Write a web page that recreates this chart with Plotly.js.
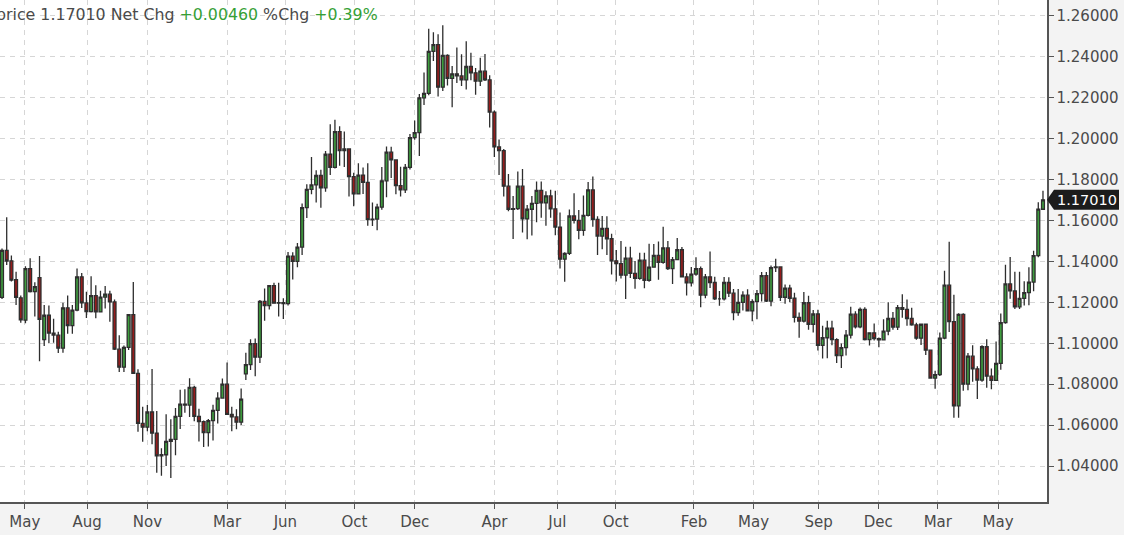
<!DOCTYPE html>
<html>
<head>
<meta charset="utf-8">
<script src="https://cdn.plot.ly/plotly-3.0.1.min.js"></script>
<style>
html,body{margin:0;padding:0;background:#f3f3f3;}
#chart{width:1124px;height:535px;}
</style>
</head>
<body>
<div id="chart"></div>
<script>
// Weekly EUR/USD candles (week starting dates)
const weeks = [
'2016-04-25','2016-05-02','2016-05-09','2016-05-16','2016-05-23','2016-05-30','2016-06-06','2016-06-13','2016-06-20','2016-06-27',
'2016-07-04','2016-07-11','2016-07-18','2016-07-25','2016-08-01','2016-08-08','2016-08-15','2016-08-22','2016-08-29','2016-09-05',
'2016-09-12','2016-09-19','2016-09-26','2016-10-03','2016-10-10','2016-10-17','2016-10-24','2016-10-31','2016-11-07','2016-11-14',
'2016-11-21','2016-11-28','2016-12-05','2016-12-12','2016-12-19','2016-12-26','2017-01-02','2017-01-09','2017-01-16','2017-01-23',
'2017-01-30','2017-02-06','2017-02-13','2017-02-20','2017-02-27','2017-03-06','2017-03-13','2017-03-20','2017-03-27','2017-04-03',
'2017-04-10','2017-04-17','2017-04-24','2017-05-01','2017-05-08','2017-05-15','2017-05-22','2017-05-29','2017-06-05','2017-06-12',
'2017-06-19','2017-06-26','2017-07-03','2017-07-10','2017-07-17','2017-07-24','2017-07-31','2017-08-07','2017-08-14','2017-08-21',
'2017-08-28','2017-09-04','2017-09-11','2017-09-18','2017-09-25','2017-10-02','2017-10-09','2017-10-16','2017-10-23','2017-10-30',
'2017-11-06','2017-11-13','2017-11-20','2017-11-27','2017-12-04','2017-12-11','2017-12-18','2017-12-25','2018-01-01','2018-01-08',
'2018-01-15','2018-01-22','2018-01-29','2018-02-05','2018-02-12','2018-02-19','2018-02-26','2018-03-05','2018-03-12','2018-03-19',
'2018-03-26','2018-04-02','2018-04-09','2018-04-16','2018-04-23','2018-04-30','2018-05-07','2018-05-14','2018-05-21','2018-05-28',
'2018-06-04','2018-06-11','2018-06-18','2018-06-25','2018-07-02','2018-07-09','2018-07-16','2018-07-23','2018-07-30','2018-08-06',
'2018-08-13','2018-08-20','2018-08-27','2018-09-03','2018-09-10','2018-09-17','2018-09-24','2018-10-01','2018-10-08','2018-10-15',
'2018-10-22','2018-10-29','2018-11-05','2018-11-12','2018-11-19','2018-11-26','2018-12-03','2018-12-10','2018-12-17','2018-12-24',
'2018-12-31','2019-01-07','2019-01-14','2019-01-21','2019-01-28','2019-02-04','2019-02-11','2019-02-18','2019-02-25','2019-03-04',
'2019-03-11','2019-03-18','2019-03-25','2019-04-01','2019-04-08','2019-04-15','2019-04-22','2019-04-29','2019-05-06','2019-05-13',
'2019-05-20','2019-05-27','2019-06-03','2019-06-10','2019-06-17','2019-06-24','2019-07-01','2019-07-08','2019-07-15','2019-07-22',
'2019-07-29','2019-08-05','2019-08-12','2019-08-19','2019-08-26','2019-09-02','2019-09-09','2019-09-16','2019-09-23','2019-09-30',
'2019-10-07','2019-10-14','2019-10-21','2019-10-28','2019-11-04','2019-11-11','2019-11-18','2019-11-25','2019-12-02','2019-12-09',
'2019-12-16','2019-12-23','2019-12-30','2020-01-06','2020-01-13','2020-01-20','2020-01-27','2020-02-03','2020-02-10','2020-02-17',
'2020-02-24','2020-03-02','2020-03-09','2020-03-16','2020-03-23','2020-03-30','2020-04-06','2020-04-13','2020-04-20','2020-04-27',
'2020-05-04','2020-05-11','2020-05-18','2020-05-25','2020-06-01','2020-06-08','2020-06-15','2020-06-22','2020-06-29','2020-07-06',
'2020-07-13','2020-07-20','2020-07-27'
];

const opens = [
1.1224,1.1454,1.1403,1.1311,1.1222,1.1113,1.1365,1.1252,1.1321,1.1018,
1.1137,1.1050,1.1040,1.0976,1.1173,1.1086,1.1162,1.1325,1.1197,1.1155,
1.1233,1.1153,1.1226,1.1240,1.1202,1.0971,1.0883,1.0980,1.1140,1.0853,
1.0608,1.0590,1.0664,1.0561,1.0449,1.0455,1.0520,1.0530,1.0643,1.0702,
1.0698,1.0784,1.0643,1.0617,1.0563,1.0622,1.0672,1.0732,1.0800,1.0652,
1.0640,1.0614,1.0850,1.0896,1.0998,1.0932,1.1205,1.1184,1.1282,1.1196,
1.1198,1.1194,1.1426,1.1400,1.1470,1.1663,1.1752,1.1774,1.1820,1.1760,
1.1924,1.1860,1.2035,1.1942,1.1950,1.1815,1.1730,1.1822,1.1786,1.1604,
1.1607,1.1665,1.1794,1.1934,1.1896,1.1771,1.1750,1.1860,1.2005,1.2030,
1.2200,1.2222,1.2427,1.2460,1.2252,1.2407,1.2295,1.2317,1.2307,1.2288,
1.2353,1.2322,1.2281,1.2330,1.2288,1.2130,1.1960,1.1942,1.1768,1.1655,
1.1658,1.1768,1.1608,1.1655,1.1684,1.1747,1.1686,1.1720,1.1657,1.1568,
1.1411,1.1439,1.1622,1.1601,1.1552,1.1625,1.1750,1.1606,1.1524,1.1562,
1.1511,1.1403,1.1389,1.1333,1.1416,1.1342,1.1317,1.1406,1.1308,1.1372,
1.1430,1.1395,1.1466,1.1365,1.1409,1.1457,1.1325,1.1295,1.1338,1.1365,
1.1235,1.1325,1.1297,1.1217,1.1217,1.1297,1.1245,1.1150,1.1200,1.1235,
1.1158,1.1204,1.1243,1.1331,1.1206,1.1370,1.1373,1.1225,1.1270,1.1220,
1.1127,1.1108,1.1198,1.1093,1.1143,1.0990,1.1027,1.1074,1.1018,1.0940,
1.0979,1.1040,1.1142,1.1080,1.1166,1.1018,1.1051,1.1023,1.1017,1.1059,
1.1121,1.1079,1.1174,1.1166,1.1121,1.1090,1.1025,1.1093,1.0966,1.0830,
1.0847,1.1025,1.1284,1.1106,1.0694,1.1141,1.0800,1.0937,1.0875,1.0820,
1.0983,1.0839,1.0819,1.0902,1.1101,1.1290,1.1256,1.1178,1.1219,1.1248,
1.1299,1.1428,1.1655
];

const highs = [
1.1463,1.1616,1.1429,1.1350,1.1233,1.1376,1.1416,1.1298,1.1427,1.1187,
1.1185,1.1120,1.1056,1.1198,1.1234,1.1187,1.1366,1.1343,1.1252,1.1327,
1.1283,1.1257,1.1280,1.1257,1.1214,1.1039,1.0989,1.1140,1.1300,1.0873,
1.0690,1.0698,1.0874,1.0669,1.0487,1.0653,1.0629,1.0684,1.0773,1.0775,
1.0829,1.0792,1.0680,1.0623,1.0630,1.0700,1.0761,1.0828,1.0906,1.0690,
1.0677,1.0779,1.0953,1.1020,1.1023,1.1212,1.1268,1.1285,1.1296,1.1296,
1.1220,1.1446,1.1445,1.1490,1.1683,1.1777,1.1910,1.1846,1.1848,1.1940,
1.2070,1.2092,1.2061,1.2035,1.1950,1.1833,1.1880,1.1859,1.1880,1.1688,
1.1682,1.1862,1.1962,1.1961,1.1900,1.1863,1.1876,1.2023,1.2089,1.2219,
1.2323,1.2537,1.2520,1.2510,1.2555,1.2413,1.2355,1.2446,1.2413,1.2476,
1.2420,1.2345,1.2396,1.2414,1.2310,1.2138,1.1996,1.1950,1.1828,1.1720,
1.1840,1.1852,1.1676,1.1720,1.1791,1.1791,1.1743,1.1750,1.1745,1.1639,
1.1445,1.1654,1.1733,1.1652,1.1722,1.1788,1.1815,1.1621,1.1622,1.1621,
1.1535,1.1456,1.1500,1.1472,1.1472,1.1402,1.1443,1.1442,1.1486,1.1485,
1.1498,1.1570,1.1500,1.1422,1.1514,1.1470,1.1342,1.1373,1.1420,1.1375,
1.1339,1.1448,1.1325,1.1255,1.1324,1.1323,1.1265,1.1265,1.1254,1.1264,
1.1215,1.1260,1.1348,1.1348,1.1380,1.1413,1.1374,1.1287,1.1286,1.1247,
1.1150,1.1250,1.1232,1.1163,1.1164,1.1085,1.1110,1.1110,1.1025,1.0999,
1.1065,1.1179,1.1157,1.1175,1.1176,1.1053,1.1097,1.1028,1.1117,1.1200,
1.1153,1.1187,1.1239,1.1214,1.1173,1.1100,1.1097,1.1095,1.0970,1.0865,
1.1053,1.1355,1.1496,1.1237,1.1147,1.1147,1.0952,1.0990,1.0887,1.0990,
1.1019,1.0876,1.1008,1.1145,1.1384,1.1422,1.1349,1.1349,1.1303,1.1371,
1.1452,1.1689,1.1746
];

const lows = [
1.1216,1.1383,1.1302,1.1187,1.1100,1.1098,1.1248,1.1131,1.0912,1.0987,
1.1000,1.1002,1.0952,1.0953,1.1046,1.1047,1.1156,1.1172,1.1123,1.1150,
1.1122,1.1150,1.1170,1.1105,1.0967,1.0859,1.0860,1.0967,1.0852,1.0568,
1.0518,1.0570,1.0506,1.0367,1.0352,1.0400,1.0341,1.0453,1.0581,1.0660,
1.0640,1.0619,1.0520,1.0493,1.0495,1.0525,1.0608,1.0730,1.0650,1.0570,
1.0580,1.0600,1.0821,1.0869,1.0839,1.0904,1.1110,1.1165,1.1195,1.1131,
1.1119,1.1185,1.1312,1.1371,1.1431,1.1612,1.1729,1.1688,1.1662,1.1741,
1.1823,1.1854,1.1868,1.1862,1.1717,1.1670,1.1730,1.1730,1.1575,1.1573,
1.1553,1.1653,1.1714,1.1808,1.1729,1.1717,1.1735,1.1850,1.1995,1.1916,
1.2165,1.2212,1.2380,1.2206,1.2233,1.2260,1.2154,1.2272,1.2258,1.2240,
1.2286,1.2215,1.2258,1.2282,1.2055,1.1910,1.1822,1.1717,1.1645,1.1510,
1.1652,1.1541,1.1508,1.1527,1.1592,1.1614,1.1574,1.1614,1.1528,1.1365,
1.1301,1.1432,1.1585,1.1509,1.1526,1.1620,1.1570,1.1431,1.1460,1.1432,
1.1336,1.1302,1.1316,1.1216,1.1319,1.1267,1.1310,1.1269,1.1301,1.1370,
1.1310,1.1389,1.1358,1.1290,1.1407,1.1323,1.1234,1.1277,1.1330,1.1176,
1.1220,1.1270,1.1211,1.1183,1.1209,1.1226,1.1112,1.1135,1.1160,1.1157,
1.1107,1.1117,1.1204,1.1202,1.1181,1.1348,1.1207,1.1193,1.1200,1.1101,
1.1027,1.1102,1.1066,1.1052,1.0965,1.0926,1.0927,1.0990,1.0904,1.0879,
1.0940,1.1023,1.1072,1.1073,1.1014,1.0989,1.1014,1.0981,1.1016,1.1039,
1.1066,1.1065,1.1125,1.1085,1.1085,1.1017,1.0992,1.0942,1.0827,1.0778,
1.0840,1.1020,1.1055,1.0636,1.0636,1.0768,1.0770,1.0812,1.0727,1.0812,
1.0782,1.0775,1.0815,1.0870,1.1095,1.1218,1.1168,1.1167,1.1185,1.1186,
1.1254,1.1420,1.1651
];

const closes = [
1.1454,1.1402,1.1309,1.1224,1.1114,1.1365,1.1253,1.1277,1.1117,1.1137,
1.1050,1.1040,1.0976,1.1173,1.1086,1.1162,1.1325,1.1197,1.1155,1.1233,
1.1153,1.1226,1.1240,1.1202,1.0971,1.0883,1.0980,1.1140,1.0853,1.0608,
1.0590,1.0664,1.0561,1.0449,1.0455,1.0520,1.0530,1.0643,1.0702,1.0698,
1.0784,1.0643,1.0617,1.0563,1.0622,1.0672,1.0732,1.0800,1.0652,1.0640,
1.0614,1.0727,1.0896,1.0998,1.0932,1.1205,1.1184,1.1282,1.1196,1.1198,
1.1194,1.1426,1.1400,1.1470,1.1663,1.1752,1.1774,1.1820,1.1760,1.1924,
1.1860,1.2035,1.1942,1.1950,1.1815,1.1730,1.1822,1.1786,1.1604,1.1607,
1.1665,1.1794,1.1934,1.1896,1.1771,1.1750,1.1860,1.2005,1.2030,1.2200,
1.2222,1.2427,1.2460,1.2252,1.2407,1.2295,1.2317,1.2307,1.2288,1.2353,
1.2322,1.2281,1.2330,1.2288,1.2130,1.1960,1.1942,1.1768,1.1655,1.1658,
1.1768,1.1608,1.1655,1.1684,1.1747,1.1686,1.1720,1.1657,1.1568,1.1411,
1.1439,1.1622,1.1601,1.1552,1.1625,1.1750,1.1606,1.1524,1.1562,1.1511,
1.1403,1.1389,1.1333,1.1416,1.1342,1.1317,1.1406,1.1308,1.1372,1.1430,
1.1395,1.1466,1.1365,1.1409,1.1457,1.1325,1.1295,1.1338,1.1365,1.1235,
1.1325,1.1297,1.1217,1.1217,1.1297,1.1245,1.1150,1.1200,1.1235,1.1158,
1.1204,1.1243,1.1331,1.1206,1.1370,1.1373,1.1225,1.1270,1.1220,1.1127,
1.1108,1.1198,1.1093,1.1143,1.0990,1.1027,1.1074,1.1018,1.0940,1.0979,
1.1040,1.1142,1.1080,1.1166,1.1018,1.1051,1.1023,1.1017,1.1059,1.1121,
1.1079,1.1174,1.1166,1.1121,1.1090,1.1025,1.1093,1.0966,1.0830,1.0847,
1.1025,1.1284,1.1106,1.0694,1.1141,1.0800,1.0937,1.0875,1.0820,1.0983,
1.0839,1.0819,1.0902,1.1101,1.1290,1.1256,1.1178,1.1219,1.1248,1.1299,
1.1428,1.1656,1.1701
];

const xTickDates = ['2016-05-29','2016-08-30','2016-11-28','2017-03-27','2017-06-22','2017-10-03','2018-01-01','2018-04-30',
  '2018-08-02','2018-10-28','2019-02-22','2019-05-22','2019-08-27','2019-11-24','2020-02-21','2020-05-21'];
const xTickText = ['May','Aug','Nov','Mar','Jun','Oct','Dec','Apr','Jul','Oct','Feb','May','Sep','Dec','Mar','May'];
const yTicks = [1.04,1.06,1.08,1.10,1.12,1.14,1.16,1.18,1.20,1.22,1.24,1.26];

const lastPrice = '1.17010';
const netChg = '+0.00460';
const pctChg = '+0.39%';

const yRange = [1.0224, 1.2678];
const lastVal = closes[closes.length - 1];
const tagY = (lastVal - yRange[0]) / (yRange[1] - yRange[0]);

const trace = {
  type: 'candlestick',
  x: weeks, open: opens, high: highs, low: lows, close: closes,
  whiskerwidth: 0,
  increasing: {fillcolor: '#3e9e3e', line: {color: '#2e2e2e', width: 1.3}},
  decreasing: {fillcolor: '#961c1c', line: {color: '#2e2e2e', width: 1.3}},
  hoverinfo: 'x'
};

const grid = '#d6d6d6';
const tickFont = {family: 'DejaVu Sans, sans-serif', size: 15, color: '#4a4a4a'};
const layout = {
  width: 1124, height: 535,
  margin: {l: 0, r: 77, t: 0, b: 33, pad: 0},
  paper_bgcolor: '#f3f3f3', plot_bgcolor: '#ffffff',
  showlegend: false,
  boxgap: 0.12,
  font: {family: 'DejaVu Sans, sans-serif', size: 15, color: '#4a4a4a'},
  xaxis: {
    type: 'date', range: ['2016-04-22', '2020-08-02'],
    rangeslider: {visible: false},
    tickmode: 'array', tickvals: xTickDates, ticktext: xTickText,
    ticks: 'outside', ticklen: 5, tickcolor: '#555', tickwidth: 1,
    showline: true, linecolor: '#555', linewidth: 1.5,
    showgrid: true, gridcolor: grid, griddash: '5px,5px', gridwidth: 1,
    zeroline: false,
    tickfont: tickFont
  },
  yaxis: {
    side: 'right', range: yRange,
    tickmode: 'array', tickvals: yTicks, tickformat: '.5f',
    ticks: 'outside', ticklen: 5, tickcolor: '#555', tickwidth: 1,
    showline: true, linecolor: '#555', linewidth: 1.5,
    showgrid: true, gridcolor: grid, griddash: '5px,5px', gridwidth: 1,
    zeroline: false,
    tickfont: tickFont
  },
  shapes: [{
    type: 'path', xref: 'paper', yref: 'paper',
    xsizemode: 'pixel', ysizemode: 'pixel', xanchor: 1, yanchor: tagY,
    path: 'M 0 0 L 7 10 L 72 10 L 72 -10 L 7 -10 Z',
    fillcolor: '#1c1c1c', line: {width: 0}, layer: 'above'
  }],
  annotations: [
    {
      xref: 'paper', yref: 'paper', x: 1, y: tagY, xanchor: 'left', yanchor: 'middle',
      xshift: 8, showarrow: false, text: lastPrice,
      font: {family: 'DejaVu Sans, sans-serif', size: 14.5, color: '#ffffff'}
    },
    {
      xref: 'paper', yref: 'paper', x: 0, y: 1, xanchor: 'left', yanchor: 'top',
      xshift: -6, yshift: -3, showarrow: false, align: 'left',
      text: 'price ' + lastPrice + ' Net Chg <span style="color:#35a035">' + netChg +
            '</span> %Chg <span style="color:#35a035">' + pctChg + '</span>',
      font: {family: 'DejaVu Sans, sans-serif', size: 15.8, color: '#4a4a4a'}
    }
  ]
};

Plotly.newPlot('chart', [trace], layout, {displayModeBar: false, staticPlot: true});
</script>
</body>
</html>
